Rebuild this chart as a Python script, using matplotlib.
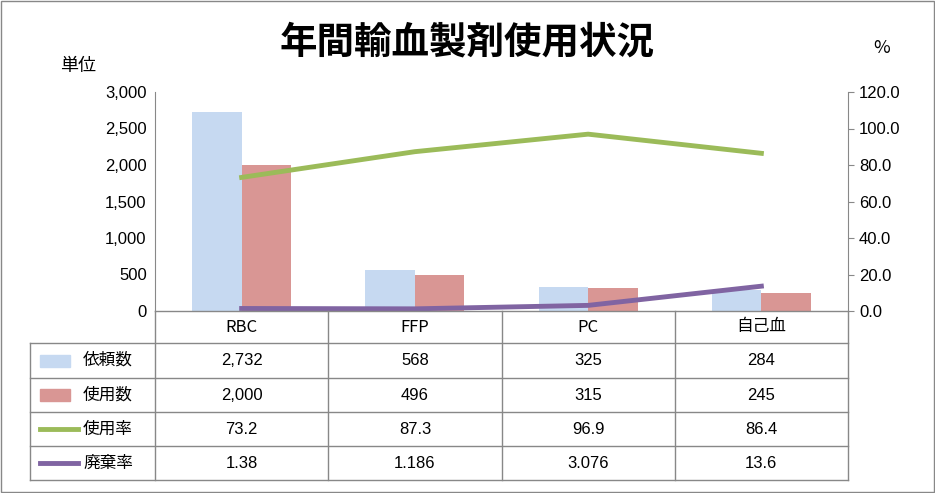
import matplotlib
matplotlib.use("Agg")
import matplotlib.pyplot as plt
from matplotlib.patches import Rectangle

plt.rcParams["font.family"] = "Noto Sans CJK JP"

categories = ["RBC", "FFP", "PC", "自己血"]
requested = [2732, 568, 325, 284]
used = [2000, 496, 315, 245]
use_rate = [73.2, 87.3, 96.9, 86.4]
waste_rate = [1.38, 1.186, 3.076, 13.6]
row_labels = ["依頼数", "使用数", "使用率", "廃棄率"]
row_text = [["2,732", "568", "325", "284"], ["2,000", "496", "315", "245"],
            ["73.2", "87.3", "96.9", "86.4"], ["1.38", "1.186", "3.076", "13.6"]]
y_ticks = [0, 500, 1000, 1500, 2000, 2500, 3000]
y2_ticks = [0, 20, 40, 60, 80, 100, 120]

W, H = 935, 493
fig = plt.figure(figsize=(W/100, H/100), dpi=100)
blue, red, green, purple = "#c6d9f1", "#d99694", "#9bbb59", "#8064a2"

L, R, T, B = 155, 848, 92, 311
ax = fig.add_axes([L/W, 1-B/H, (R-L)/W, (B-T)/H])
x = range(len(categories))
bw = 0.285
ax.bar([i-bw/2 for i in x], requested, bw, color=blue)
ax.bar([i+bw/2 for i in x], used, bw, color=red)
ax.set_xlim(-0.5, 3.5)
ax.set_ylim(0, 3000)
ax.set_yticks(y_ticks)
ax.set_yticklabels([f"{v:,}" for v in y_ticks], fontsize=12, fontfamily="Liberation Sans")
ax.set_xticks([])
ax.tick_params(axis="y", length=0, pad=6)
for s in ["top", "right", "bottom"]:
    ax.spines[s].set_visible(False)
ax.spines["left"].set_color("#888888")
ax2 = ax.twinx()
ax2.plot(list(x), use_rate, color=green, lw=3.5)
ax2.plot(list(x), waste_rate, color=purple, lw=3.5)
ax2.set_ylim(0, 120)
ax2.set_yticks(y2_ticks)
ax2.set_yticklabels([f"{v:.1f}" for v in y2_ticks], fontsize=12, fontfamily="Liberation Sans")
ax2.tick_params(axis="y", length=4, color="#888888", pad=4)
for s in ["top", "left", "bottom"]:
    ax2.spines[s].set_visible(False)
ax2.spines["right"].set_color("#888888")

fig.text(467/W, 1-42/H, "年間輸血製剤使用状況", ha="center", va="center", fontsize=27, fontweight="bold")
fig.text(78/W, 1-66/H, "単位", ha="center", va="center", fontsize=13)
fig.text(882/W, 1-48/H, "%", ha="center", va="center", fontsize=13)

# table
ov = fig.add_axes([0, 0, 1, 1]); ov.set_xlim(0, W); ov.set_ylim(H, 0); ov.axis("off")
rows_y = [311, 343, 378, 412, 446, 480]
cols_x = [L + i*(R-L)/4 for i in range(5)]
lc = "#888888"
for y in rows_y:
    ov.plot([30 if y != 311 else L, R], [y, y], color=lc, lw=1)
ov.plot([30, 30], [343, 480], color=lc, lw=1)
for xx in cols_x:
    ov.plot([xx, xx], [311, 480], color=lc, lw=1)
for j, c in enumerate(categories):
    ov.text((cols_x[j]+cols_x[j+1])/2, 327, c, ha="center", va="center", fontsize=12)
for i, lab in enumerate(row_labels):
    yc = (rows_y[i+1]+rows_y[i+2])/2
    if i < 2:
        ov.add_patch(Rectangle((40, yc-6), 30, 12, color=[blue, red][i]))
    else:
        ov.plot([40, 78], [yc, yc], color=[green, purple][i-2], lw=3.5)
    ov.text(83, yc, lab, ha="left", va="center", fontsize=12)
    for j in range(4):
        ov.text((cols_x[j]+cols_x[j+1])/2, yc, row_text[i][j], ha="center", va="center", fontsize=12, fontfamily="Liberation Sans")
ov.add_patch(Rectangle((1, 1), W-2, H-2, fill=False, ec="#888888", lw=1))

fig.savefig("out.png", dpi=100)
